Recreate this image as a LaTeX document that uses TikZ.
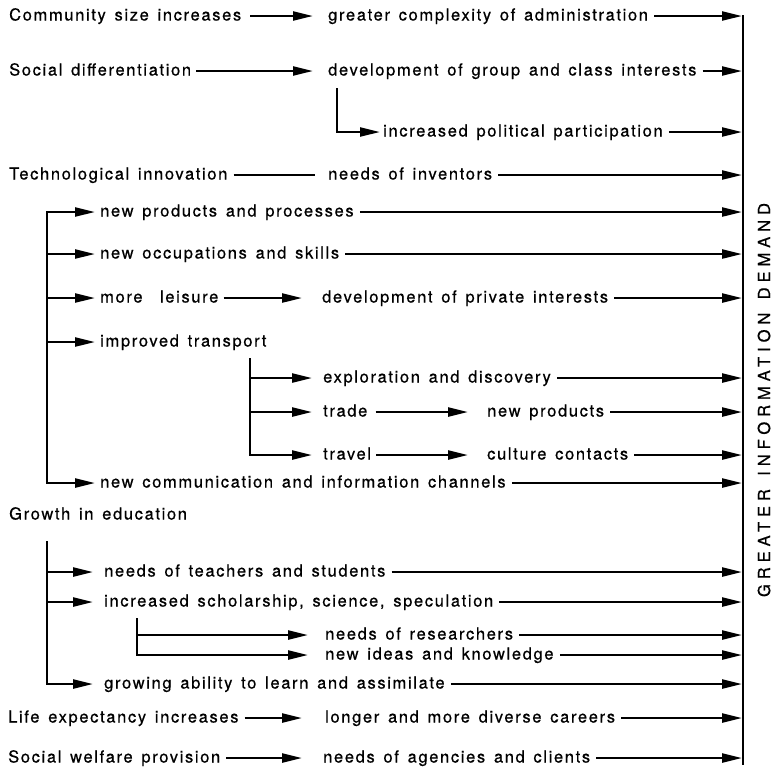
\documentclass[tikz,border=0pt]{standalone}
\usepackage{fontspec}
\setmainfont{TeX Gyre Heros}[LetterSpace=10, WordSpace=1.4, FakeBold=0.6]
\usetikzlibrary{arrows.meta}
\begin{document}
\begin{tikzpicture}[x=1pt,y=-1pt,
 lbl/.style={anchor=west,inner sep=0pt,text height=12pt,text depth=3pt,font=\fontsize{16.5}{19}\selectfont},
 arr/.style={line width=2.4pt,-{Triangle[length=20pt,width=9pt]}},
 ln/.style={line width=2.4pt,line cap=rect},
 tobar/.style={arr,shorten <=6pt}
]
\useasboundingbox (0,0) rectangle (776,769);
% labels
\node[lbl] (cs) at (9,16) {Community size increases};
\node[lbl] (gc) at (328,16) {greater complexity of administration};
\node[lbl] (sd) at (9,71) {Social differentiation};
\node[lbl] (dg) at (328,71) {development of group and class interests};
\node[lbl] (ip) at (383,132) {increased political participation};
\node[lbl] (ti) at (9,175) {Technological innovation};
\node[lbl] (ni) at (328,175) {needs of inventors};
\node[lbl] (np) at (100,212) {new products and processes};
\node[lbl] (no) at (100,254) {new occupations and skills};
\node[lbl] (ml) at (100,298) {more\ \ leisure};
\node[lbl] (dp) at (322,298) {development of private interests};
\node[lbl] (it) at (100,342) {improved transport};
\node[lbl] (ed) at (323,378) {exploration and discovery};
\node[lbl] (tr) at (323,412) {trade};
\node[lbl] (npr) at (487,412) {new products};
\node[lbl] (tv) at (323,455) {travel};
\node[lbl] (cc) at (487,455) {culture contacts};
\node[lbl] (nc) at (100,483) {new communication and information channels};
\node[lbl] (ge) at (9,515) {Growth in education};
\node[lbl] (nt) at (104,572) {needs of teachers and students};
\node[lbl] (is) at (104,602) {increased scholarship, science, speculation};
\node[lbl] (nr) at (325,635) {needs of researchers};
\node[lbl] (nk) at (325,655) {new ideas and knowledge};
\node[lbl] (ga) at (104,684) {growing ability to learn and assimilate};
\node[lbl] (le) at (8,718) {Life expectancy increases};
\node[lbl] (lc) at (325,718) {longer and more diverse careers};
\node[lbl] (sw) at (8,758) {Social welfare provision};
\node[lbl] (na) at (323,758) {needs of agencies and clients};
\node[rotate=90,inner sep=0pt,font=\fontsize{16.5}{18}\selectfont\addfontfeatures{LetterSpace=30}] (gid) at (764,400) {GREATER INFORMATION DEMAND};
% bar
\coordinate (bt) at (743,15);
\coordinate (bb) at (743,765);
\coordinate (barx) at (742,0);
\draw[line width=2.6pt] (bt) -- (bb);
% text to text
\draw[arr,shorten <=9pt,shorten >=15pt] (cs.east) -- (gc.west);
\draw[arr,shorten <=5pt,shorten >=15pt] (sd.east) -- (dg.west);
\draw[line width=2.4pt,shorten <=6pt,shorten >=13pt] (ti.east) -- (ni.west);
\draw[arr,shorten <=5pt,shorten >=20pt] (ml.east) -- (dp.west);
\draw[arr,shorten <=8pt,shorten >=19pt] (tr.east) -- (npr.west);
\draw[arr,shorten <=5pt,shorten >=19pt] (tv.east) -- (cc.west);
\draw[arr,shorten <=6pt,shorten >=23pt] (le.east) -- (lc.west);
\draw[arr,shorten <=6pt,shorten >=21pt] (sw.east) -- (na.west);
% elbow
\coordinate (e1) at (337,88);
\draw[arr,shorten >=3pt] (e1) |- (ip.west);
% technology bracket
\coordinate (b1) at (47,212);
\draw[ln] (b1) -- (b1 |- nc.west);
\foreach \n in {np,no,ml,it,nc} \draw[arr,shorten >=5pt] (b1 |- \n.west) -- (\n.west);
% transport bracket
\coordinate (b2) at (250,359);
\draw[ln] (b2) -- (b2 |- tv.west);
\foreach \n in {ed,tr,tv} \draw[arr,shorten >=11pt] (b2 |- \n.west) -- (\n.west);
% education bracket
\coordinate (b3) at (47,542);
\draw[ln] (b3) -- (b3 |- ga.west);
\foreach \n in {nt,is,ga} \draw[arr,shorten >=11pt] (b3 |- \n.west) -- (\n.west);
\coordinate (b4) at (137,619);
\draw[ln] (b4) -- (b4 |- nk.west);
\foreach \n in {nr,nk} \draw[arr,shorten >=17pt] (b4 |- \n.west) -- (\n.west);
% to bar
\foreach \n in {gc,dg,ip,ni,np,no,dp,ed,npr,cc,nc,nt,is,nr,nk,ga,lc,na}
  \draw[tobar] (\n.east) -- (\n.east -| barx);
\end{tikzpicture}
\end{document}
